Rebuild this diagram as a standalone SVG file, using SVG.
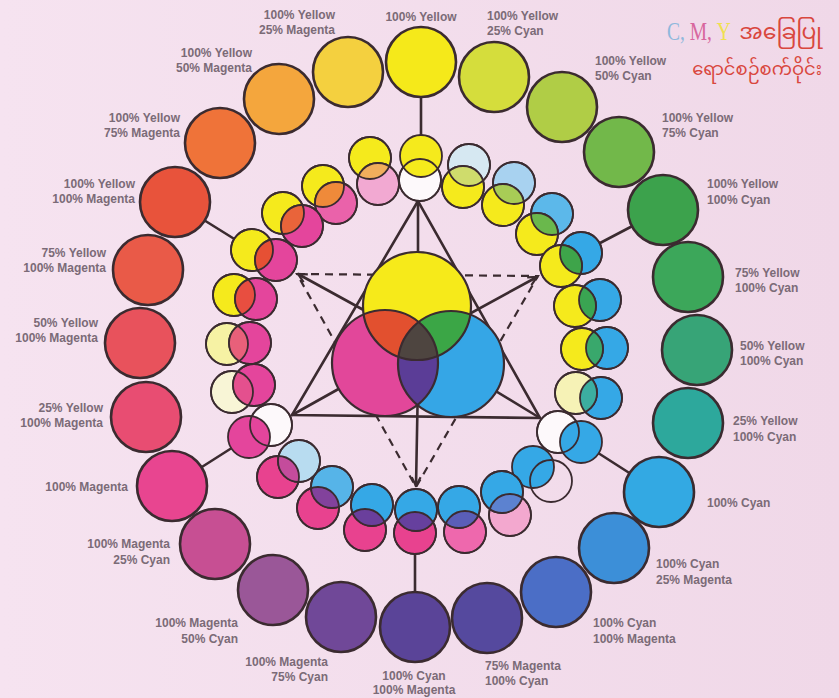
<svg xmlns="http://www.w3.org/2000/svg" width="839" height="698" viewBox="0 0 839 698">
<style>
.o{stroke:#3b2b30;stroke-width:2.6}
.i{stroke:#3b2b30;stroke-width:1.8}
.c{stroke:#3b2b30;stroke-width:2.2}
.f0{fill:none}
.ln{stroke:#3b2b30;stroke-width:2.6;fill:none;stroke-linecap:round}
.ds{stroke:#3b2b30;stroke-width:2.2;fill:none;stroke-dasharray:8 6}
.lb{font-family:'Liberation Sans',Arial,sans-serif;font-weight:700;font-size:12px;fill:#7b6b77}
.e{text-anchor:end}
.s{text-anchor:start}
.m{text-anchor:middle}
.mm{font-family:'Noto Sans Myanmar','Padauk','Myanmar Text','Noto Sans',sans-serif;fill:#d9473e;text-anchor:end}
</style>
<defs>
<linearGradient id="bg" x1="0" y1="0" x2="1" y2="0">
<stop offset="0" stop-color="#f6e3f0"/><stop offset="1" stop-color="#f0d8e8"/>
</linearGradient>
<marker id="arr" viewBox="0 0 10 10" refX="9" refY="5" markerWidth="11" markerHeight="11" markerUnits="userSpaceOnUse" orient="auto">
<path d="M1,1 L9,5 L1,9" fill="none" stroke="#3b2b30" stroke-width="2"/>
</marker>
<clipPath id="kY"><circle cx="417" cy="306" r="54"/></clipPath>
<clipPath id="kM"><circle cx="385" cy="363" r="53"/></clipPath>
<clipPath id="kL1"><circle cx="370" cy="158" r="21"/></clipPath>
<clipPath id="kL2"><circle cx="323" cy="186" r="21"/></clipPath>
<clipPath id="kL3"><circle cx="283" cy="213" r="21"/></clipPath>
<clipPath id="kL4"><circle cx="252" cy="250" r="21"/></clipPath>
<clipPath id="kL5"><circle cx="234" cy="295" r="21"/></clipPath>
<clipPath id="kL6"><circle cx="227" cy="344" r="21"/></clipPath>
<clipPath id="kL7"><circle cx="232" cy="392" r="21"/></clipPath>
<clipPath id="kR1"><circle cx="469" cy="165" r="21"/></clipPath>
<clipPath id="kR2"><circle cx="514" cy="183" r="21"/></clipPath>
<clipPath id="kR3"><circle cx="552" cy="214" r="21"/></clipPath>
<clipPath id="kR4"><circle cx="581" cy="253" r="21"/></clipPath>
<clipPath id="kR5"><circle cx="600" cy="300" r="21"/></clipPath>
<clipPath id="kR6"><circle cx="607" cy="348" r="21"/></clipPath>
<clipPath id="kR7"><circle cx="601" cy="398" r="21"/></clipPath>
<clipPath id="kB2"><circle cx="510" cy="515" r="21"/></clipPath>
<clipPath id="kB3"><circle cx="465" cy="532" r="21"/></clipPath>
<clipPath id="kB4"><circle cx="415" cy="533" r="21"/></clipPath>
<clipPath id="kB5"><circle cx="365" cy="530" r="21"/></clipPath>
<clipPath id="kB6"><circle cx="318" cy="508" r="21"/></clipPath>
<clipPath id="kB7"><circle cx="278" cy="477" r="21"/></clipPath>
</defs>
<rect width="839" height="698" fill="url(#bg)"/>

<g id="connectors">
<line class="ln" x1="421" y1="62" x2="421" y2="156"/>
<line class="ln" x1="175" y1="202" x2="252" y2="250"/>
<line class="ln" x1="172" y1="486" x2="249" y2="437"/>
<line class="ln" x1="415" y1="627" x2="415" y2="533"/>
<line class="ln" x1="659" y1="492" x2="581" y2="442"/>
<line class="ln" x1="663" y1="210" x2="581" y2="253"/>
<polygon class="ln" points="418,201 292,415 540,418"/>
<line class="ln" x1="418" y1="201" x2="418" y2="306"/>
<line class="ln" x1="292" y1="415" x2="385" y2="363"/>
<line class="ln" x1="540" y1="418" x2="451" y2="364"/>
<polygon class="ds" points="297,274 538,276 416,487"/>
<line class="ln" x1="400" y1="330" x2="298" y2="274" marker-end="url(#arr)"/>
<line class="ln" x1="440" y1="330" x2="537" y2="277" marker-end="url(#arr)"/>
<line class="ln" x1="418" y1="380" x2="416" y2="486" marker-end="url(#arr)"/>
</g>

<g id="outer-ring">
<g id="o1"><circle class="o" cx="421" cy="62" r="35" fill="#f5e91a"/><text class="lb m" x="421" y="21">100% Yellow</text></g>
<g id="o2"><circle class="o" cx="494" cy="77" r="35" fill="#d5dd3c"/><text class="lb s" x="487" y="20">100% Yellow</text><text class="lb s" x="487" y="35">25% Cyan</text></g>
<g id="o3"><circle class="o" cx="562" cy="107" r="35" fill="#b0cd46"/><text class="lb s" x="595" y="65">100% Yellow</text><text class="lb s" x="595" y="80">50% Cyan</text></g>
<g id="o4"><circle class="o" cx="619" cy="152" r="35" fill="#72b84a"/><text class="lb s" x="662" y="122">100% Yellow</text><text class="lb s" x="662" y="137">75% Cyan</text></g>
<g id="o5"><circle class="o" cx="663" cy="210" r="35" fill="#3ca24c"/><text class="lb s" x="707" y="188">100% Yellow</text><text class="lb s" x="707" y="204">100% Cyan</text></g>
<g id="o6"><circle class="o" cx="688" cy="277" r="35" fill="#3ca75a"/><text class="lb s" x="735" y="277">75% Yellow</text><text class="lb s" x="735" y="292">100% Cyan</text></g>
<g id="o7"><circle class="o" cx="697" cy="350" r="35" fill="#37a477"/><text class="lb s" x="740" y="350">50% Yellow</text><text class="lb s" x="740" y="365">100% Cyan</text></g>
<g id="o8"><circle class="o" cx="688" cy="423" r="35" fill="#2da89c"/><text class="lb s" x="733" y="425">25% Yellow</text><text class="lb s" x="733" y="441">100% Cyan</text></g>
<g id="o9"><circle class="o" cx="659" cy="492" r="35" fill="#33a9e3"/><text class="lb s" x="707" y="507">100% Cyan</text></g>
<g id="o10"><circle class="o" cx="614" cy="548" r="35" fill="#3c8fd8"/><text class="lb s" x="656" y="568">100% Cyan</text><text class="lb s" x="656" y="584">25% Magenta</text></g>
<g id="o11"><circle class="o" cx="556" cy="592" r="35" fill="#4b6ec6"/><text class="lb s" x="593" y="627">100% Cyan</text><text class="lb s" x="593" y="643">100% Magenta</text></g>
<g id="o12"><circle class="o" cx="487" cy="618" r="35" fill="#55499e"/><text class="lb s" x="485" y="670">75% Magenta</text><text class="lb s" x="485" y="685">100% Cyan</text></g>
<g id="o13"><circle class="o" cx="415" cy="627" r="35" fill="#5a4498"/><text class="lb m" x="414" y="680">100% Cyan</text><text class="lb m" x="414" y="694">100% Magenta</text></g>
<g id="o14"><circle class="o" cx="341" cy="617" r="35" fill="#704898"/><text class="lb e" x="328" y="666">100% Magenta</text><text class="lb e" x="328" y="681">75% Cyan</text></g>
<g id="o15"><circle class="o" cx="273" cy="590" r="35" fill="#9a5798"/><text class="lb e" x="238" y="627">100% Magenta</text><text class="lb e" x="238" y="643">50% Cyan</text></g>
<g id="o16"><circle class="o" cx="215" cy="544" r="35" fill="#c74f93"/><text class="lb e" x="170" y="548">100% Magenta</text><text class="lb e" x="170" y="564">25% Cyan</text></g>
<g id="o17"><circle class="o" cx="172" cy="486" r="35" fill="#e84590"/><text class="lb e" x="128" y="491">100% Magenta</text></g>
<g id="o18"><circle class="o" cx="146" cy="417" r="35" fill="#e84d72"/><text class="lb e" x="103" y="412">25% Yellow</text><text class="lb e" x="103" y="427">100% Magenta</text></g>
<g id="o19"><circle class="o" cx="140" cy="343" r="35" fill="#e8525c"/><text class="lb e" x="98" y="327">50% Yellow</text><text class="lb e" x="98" y="342">100% Magenta</text></g>
<g id="o20"><circle class="o" cx="148" cy="270" r="35" fill="#e95a48"/><text class="lb e" x="106" y="257">75% Yellow</text><text class="lb e" x="106" y="272">100% Magenta</text></g>
<g id="o21"><circle class="o" cx="175" cy="202" r="35" fill="#e8533b"/><text class="lb e" x="135" y="188">100% Yellow</text><text class="lb e" x="135" y="203">100% Magenta</text></g>
<g id="o22"><circle class="o" cx="220" cy="143" r="35" fill="#ef7339"/><text class="lb e" x="180" y="122">100% Yellow</text><text class="lb e" x="180" y="137">75% Magenta</text></g>
<g id="o23"><circle class="o" cx="279" cy="99" r="35" fill="#f4a63d"/><text class="lb e" x="252" y="57">100% Yellow</text><text class="lb e" x="252" y="72">50% Magenta</text></g>
<g id="o24"><circle class="o" cx="348" cy="72" r="35" fill="#f4d03f"/><text class="lb e" x="335" y="19">100% Yellow</text><text class="lb e" x="335" y="34">25% Magenta</text></g>
</g>

<g id="inner-ring">
<g id="pL0"><circle class="i" cx="420" cy="180" r="21" fill="#fdf9fb"/><circle class="i" cx="421" cy="156" r="21" fill="#f5ea1c"/><circle class="i f0" cx="420" cy="180" r="21"/></g>
<g id="pL1"><circle class="i" cx="370" cy="158" r="21" fill="#f5ea1c"/><circle class="i" cx="378" cy="184" r="21" fill="#f2a9d2"/><circle cx="378" cy="184" r="21" fill="#f1ae5c" clip-path="url(#kL1)"/><circle class="i f0" cx="370" cy="158" r="21"/><circle class="i f0" cx="378" cy="184" r="21"/></g>
<g id="pL2"><circle class="i" cx="323" cy="186" r="21" fill="#f5ea1c"/><circle class="i" cx="336" cy="203" r="21" fill="#ea62aa"/><circle cx="336" cy="203" r="21" fill="#ef8a3a" clip-path="url(#kL2)"/><circle class="i f0" cx="323" cy="186" r="21"/><circle class="i f0" cx="336" cy="203" r="21"/></g>
<g id="pL3"><circle class="i" cx="283" cy="213" r="21" fill="#f5ea1c"/><circle class="i" cx="302" cy="226" r="21" fill="#e4459c"/><circle cx="302" cy="226" r="21" fill="#e9643a" clip-path="url(#kL3)"/><circle class="i f0" cx="283" cy="213" r="21"/><circle class="i f0" cx="302" cy="226" r="21"/></g>
<g id="pL4"><circle class="i" cx="252" cy="250" r="21" fill="#f5ea1c"/><circle class="i" cx="276" cy="260" r="21" fill="#e4459c"/><circle cx="276" cy="260" r="21" fill="#e65034" clip-path="url(#kL4)"/><circle class="i f0" cx="252" cy="250" r="21"/><circle class="i f0" cx="276" cy="260" r="21"/></g>
<g id="pL5"><circle class="i" cx="234" cy="295" r="21" fill="#f5ea1c"/><circle class="i" cx="256" cy="299" r="21" fill="#e4459c"/><circle cx="256" cy="299" r="21" fill="#e84e40" clip-path="url(#kL5)"/><circle class="i f0" cx="234" cy="295" r="21"/><circle class="i f0" cx="256" cy="299" r="21"/></g>
<g id="pL6"><circle class="i" cx="227" cy="344" r="21" fill="#f6f2a4"/><circle class="i" cx="250" cy="343" r="21" fill="#e4459c"/><circle cx="250" cy="343" r="21" fill="#e8607a" clip-path="url(#kL6)"/><circle class="i f0" cx="227" cy="344" r="21"/><circle class="i f0" cx="250" cy="343" r="21"/></g>
<g id="pL7"><circle class="i" cx="232" cy="392" r="21" fill="#f8f5d6"/><circle class="i" cx="254" cy="385" r="21" fill="#e4459c"/><circle cx="254" cy="385" r="21" fill="#e4508e" clip-path="url(#kL7)"/><circle class="i f0" cx="232" cy="392" r="21"/><circle class="i f0" cx="254" cy="385" r="21"/></g>
<g id="pL8"><circle class="i" cx="271" cy="425" r="21" fill="#fdf9fb"/><circle class="i" cx="249" cy="437" r="21" fill="#e4459c"/><circle class="i f0" cx="271" cy="425" r="21"/></g>
<g id="pR1"><circle class="i" cx="469" cy="165" r="21" fill="#d6e8f2"/><circle class="i" cx="463" cy="187" r="21" fill="#f5ea1c"/><circle cx="463" cy="187" r="21" fill="#cfdc6c" clip-path="url(#kR1)"/><circle class="i f0" cx="469" cy="165" r="21"/><circle class="i f0" cx="463" cy="187" r="21"/></g>
<g id="pR2"><circle class="i" cx="514" cy="183" r="21" fill="#a8d2f0"/><circle class="i" cx="503" cy="205" r="21" fill="#f5ea1c"/><circle cx="503" cy="205" r="21" fill="#a8cc56" clip-path="url(#kR2)"/><circle class="i f0" cx="514" cy="183" r="21"/><circle class="i f0" cx="503" cy="205" r="21"/></g>
<g id="pR3"><circle class="i" cx="552" cy="214" r="21" fill="#5cb8ea"/><circle class="i" cx="537" cy="234" r="21" fill="#f5ea1c"/><circle cx="537" cy="234" r="21" fill="#6ab84c" clip-path="url(#kR3)"/><circle class="i f0" cx="552" cy="214" r="21"/><circle class="i f0" cx="537" cy="234" r="21"/></g>
<g id="pR4"><circle class="i" cx="581" cy="253" r="21" fill="#35a8e6"/><circle class="i" cx="561" cy="266" r="21" fill="#f5ea1c"/><circle cx="561" cy="266" r="21" fill="#3ea44a" clip-path="url(#kR4)"/><circle class="i f0" cx="581" cy="253" r="21"/><circle class="i f0" cx="561" cy="266" r="21"/></g>
<g id="pR5"><circle class="i" cx="600" cy="300" r="21" fill="#35a8e6"/><circle class="i" cx="575" cy="306" r="21" fill="#f5ea1c"/><circle cx="575" cy="306" r="21" fill="#3aa552" clip-path="url(#kR5)"/><circle class="i f0" cx="600" cy="300" r="21"/><circle class="i f0" cx="575" cy="306" r="21"/></g>
<g id="pR6"><circle class="i" cx="607" cy="348" r="21" fill="#35a8e6"/><circle class="i" cx="582" cy="349" r="21" fill="#f5ea1c"/><circle cx="582" cy="349" r="21" fill="#39a86c" clip-path="url(#kR6)"/><circle class="i f0" cx="607" cy="348" r="21"/><circle class="i f0" cx="582" cy="349" r="21"/></g>
<g id="pR7"><circle class="i" cx="601" cy="398" r="21" fill="#35a8e6"/><circle class="i" cx="576" cy="393" r="21" fill="#f6f2b6"/><circle cx="576" cy="393" r="21" fill="#3caea0" clip-path="url(#kR7)"/><circle class="i f0" cx="601" cy="398" r="21"/><circle class="i f0" cx="576" cy="393" r="21"/></g>
<g id="pR8"><circle class="i" cx="558" cy="432" r="21" fill="#fdf9fb"/><circle class="i" cx="581" cy="442" r="21" fill="#35a8e6"/><circle class="i f0" cx="558" cy="432" r="21"/></g>
<g id="pB1"><circle class="i" cx="533" cy="467" r="21" fill="#35a8e6"/><circle class="i f0" cx="551" cy="481" r="21"/></g>
<g id="pB2"><circle class="i" cx="510" cy="515" r="21" fill="#f3a8cf"/><circle class="i" cx="502" cy="492" r="21" fill="#35a8e6"/><circle cx="502" cy="492" r="21" fill="#5c82d0" clip-path="url(#kB2)"/><circle class="i f0" cx="510" cy="515" r="21"/><circle class="i f0" cx="502" cy="492" r="21"/></g>
<g id="pB3"><circle class="i" cx="465" cy="532" r="21" fill="#ee68ad"/><circle class="i" cx="459" cy="507" r="21" fill="#35a8e6"/><circle cx="459" cy="507" r="21" fill="#5a5eb8" clip-path="url(#kB3)"/><circle class="i f0" cx="465" cy="532" r="21"/><circle class="i f0" cx="459" cy="507" r="21"/></g>
<g id="pB4"><circle class="i" cx="415" cy="533" r="21" fill="#e8428f"/><circle class="i" cx="416" cy="510" r="21" fill="#35a8e6"/><circle cx="416" cy="510" r="21" fill="#66409e" clip-path="url(#kB4)"/><circle class="i f0" cx="415" cy="533" r="21"/><circle class="i f0" cx="416" cy="510" r="21"/></g>
<g id="pB5"><circle class="i" cx="365" cy="530" r="21" fill="#e8428f"/><circle class="i" cx="372" cy="505" r="21" fill="#35a8e6"/><circle cx="372" cy="505" r="21" fill="#6a3f9c" clip-path="url(#kB5)"/><circle class="i f0" cx="365" cy="530" r="21"/><circle class="i f0" cx="372" cy="505" r="21"/></g>
<g id="pB6"><circle class="i" cx="318" cy="508" r="21" fill="#e8428f"/><circle class="i" cx="332" cy="487" r="21" fill="#56b4e8"/><circle cx="332" cy="487" r="21" fill="#82429c" clip-path="url(#kB6)"/><circle class="i f0" cx="318" cy="508" r="21"/><circle class="i f0" cx="332" cy="487" r="21"/></g>
<g id="pB7"><circle class="i" cx="278" cy="477" r="21" fill="#e8428f"/><circle class="i" cx="299" cy="461" r="21" fill="#b8dcf0"/><circle cx="299" cy="461" r="21" fill="#c44c9c" clip-path="url(#kB7)"/><circle class="i f0" cx="278" cy="477" r="21"/><circle class="i f0" cx="299" cy="461" r="21"/></g>
</g>

<g id="center">
<circle cx="417" cy="306" r="54" fill="#f6ea1a"/>
<circle cx="385" cy="363" r="53" fill="#e2479a"/>
<circle cx="451" cy="364" r="53" fill="#35a6e6"/>
<circle cx="385" cy="363" r="53" fill="#e2502f" clip-path="url(#kY)"/>
<circle cx="451" cy="364" r="53" fill="#3ba646" clip-path="url(#kY)"/>
<circle cx="451" cy="364" r="53" fill="#5b3d97" clip-path="url(#kM)"/>
<g clip-path="url(#kY)"><circle cx="451" cy="364" r="53" fill="#4e4540" clip-path="url(#kM)"/></g>
<circle class="c f0" cx="417" cy="306" r="54"/>
<circle class="c f0" cx="385" cy="363" r="53"/>
<circle class="c f0" cx="451" cy="364" r="53"/>
</g>

<g id="title">
<text transform="translate(667,40) scale(0.75,1)" font-family="'Liberation Serif',serif" font-size="26"><tspan fill="#8fb8dc">C, </tspan><tspan fill="#d8679e">M, </tspan><tspan fill="#f0e050">Y</tspan></text>
<text class="mm" x="822" y="39" font-size="22">အခြေပြု</text>
<text class="mm" x="822" y="75" font-size="18">ရောင်စဉ်စက်ဝိုင်း</text>
</g>
</svg>
